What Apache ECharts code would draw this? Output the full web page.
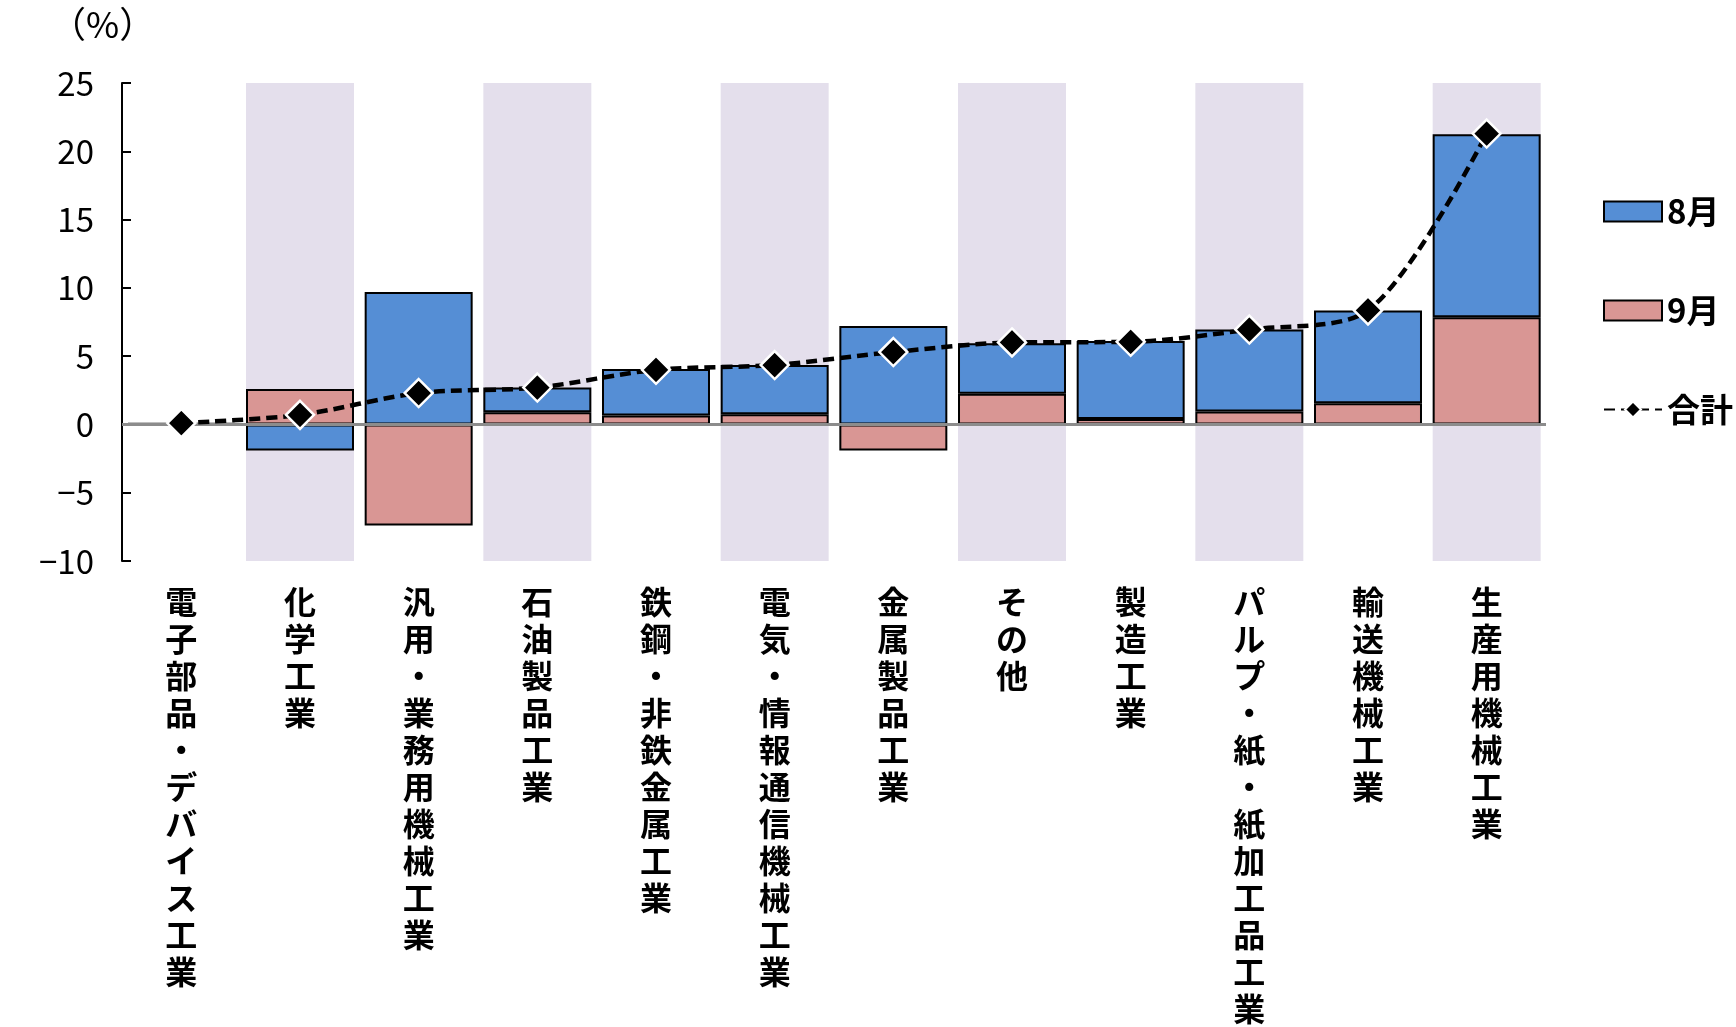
<!DOCTYPE html>
<html>
<head>
<meta charset="utf-8">
<script src="https://cdn.jsdelivr.net/npm/echarts@6/dist/echarts.min.js"></script>
<style>
html,body{margin:0;padding:0;background:#fff;}
#c{width:1736px;height:1027px;}
</style>
</head>
<body>
<div id="c"></div>
<script>
const categories = ['電子部品・デバイス工業','化学工業','汎用・業務用機械工業','石油製品工業','鉄鋼・非鉄金属工業','電気・情報通信機械工業','金属製品工業','その他','製造工業','パルプ・紙・紙加工品工業','輸送機械工業','生産用機械工業'];
const aug = [0.1, -1.9, 9.7, 1.8, 3.4, 3.6, 7.2, 3.7, 5.7, 6.0, 6.8, 13.4];
const sep = [0.0, 2.6, -7.4, 0.9, 0.65, 0.75, -1.9, 2.25, 0.4, 0.95, 1.55, 7.85];
const total = [0.1, 0.7, 2.3, 2.7, 4.0, 4.35, 5.3, 6.0, 6.05, 6.95, 8.35, 21.3];
const shaded = [false, true, false, true, false, true, false, true, false, true, false, true];
const yMin = -10, yMax = 25, yStep = 5;

const font = '"Noto Sans CJK JP", "Noto Sans", sans-serif';
const bgTop = shaded.map(s => s ? yMax : null);
const bgBot = shaded.map(s => s ? yMin : null);
const barW = '91%';

const chart = echarts.init(document.getElementById('c'));
chart.setOption({
  animation: false,
  backgroundColor: '#fff',
  textStyle: { fontFamily: font },
  grid: { left: 122, right: 190, top: 83, bottom: 465, containLabel: false },
  graphic: [{
    type: 'text', left: 50, top: 6,
    style: { text: '（%）', fontSize: 36, fontFamily: font, fill: '#000' }
  }],
  legend: {
    data: [
      { name: '8月', icon: 'rect' },
      { name: '9月', icon: 'rect' },
      { name: '合計' }
    ],
    orient: 'vertical',
    left: 1598, top: 190,
    itemWidth: 58, itemHeight: 20,
    itemGap: 66,
    textStyle: { fontSize: 33, fontWeight: 'bold', color: '#000', fontFamily: font, padding: [0, 0, 0, 0] },
    selectedMode: false
  },
  xAxis: {
    type: 'category',
    data: categories,
    axisLine: { show: false, onZero: false },
    axisTick: { show: false },
    axisLabel: {
      interval: 0,
      margin: 22,
      verticalAlign: 'top',
      fontSize: 32,
      lineHeight: 37,
      fontWeight: 'bold',
      color: '#000',
      fontFamily: font,
      formatter: v => v.split('').join('\n')
    }
  },
  yAxis: {
    type: 'value',
    min: yMin, max: yMax, interval: yStep,
    axisLine: { show: true, lineStyle: { color: '#000', width: 2 } },
    axisTick: { show: true, inside: true, length: 9, lineStyle: { color: '#000', width: 2 } },
    splitLine: { show: false },
    axisLabel: {
      fontSize: 33, color: '#000', margin: 28, fontFamily: font,
      formatter: v => String(v).replace('-', '−')
    }
  },
  series: [
    { name: 'bg1', type: 'bar', stack: 'bg', data: bgTop, barWidth: barW, barGap: '-100%',
      itemStyle: { color: '#E4DFEC' }, silent: true, z: 1 },
    { name: 'bg2', type: 'bar', stack: 'bg', data: bgBot, barWidth: barW, barGap: '-100%',
      itemStyle: { color: '#E4DFEC' }, silent: true, z: 1 },
    { name: '9月', type: 'bar', stack: 'm', data: sep, barWidth: barW, barGap: '-100%',
      itemStyle: { color: '#D99694', borderColor: '#000', borderWidth: 2 }, z: 2,
      markLine: {
        silent: true, symbol: 'none', label: { show: false },
        lineStyle: { color: '#8c8c8c', width: 3, type: 'solid' },
        data: [{ yAxis: 0 }]
      }
    },
    { name: '8月', type: 'bar', stack: 'm', data: aug, barWidth: barW, barGap: '-100%',
      itemStyle: { color: '#558ED5', borderColor: '#000', borderWidth: 2 }, z: 3 },
    { name: '合計', type: 'line', data: total, smooth: 0.3, z: 5,
      symbol: 'diamond', symbolSize: 28,
      lineStyle: { color: '#000', width: 4.5, type: [11, 6] },
      itemStyle: { color: '#000', borderColor: '#fff', borderWidth: 2.5 }
    }
  ]
});
</script>
</body>
</html>
